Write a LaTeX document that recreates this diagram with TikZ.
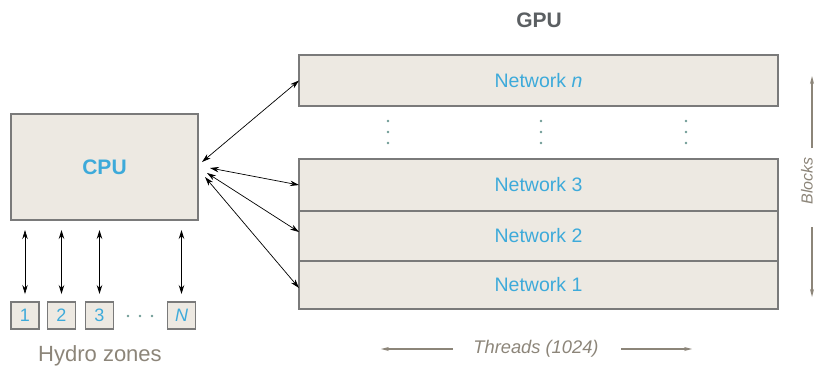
\documentclass[tikz,border=0pt]{standalone}
\usepackage{fontspec}
\setmainfont{Liberation Sans}
\usetikzlibrary{positioning,calc,arrows.meta}
\definecolor{boxfill}{HTML}{EDE9E2}
\definecolor{boxline}{HTML}{7A7A7A}
\definecolor{netblue}{HTML}{3DAADA}
\definecolor{labgray}{HTML}{8C8579}
\definecolor{gpugray}{HTML}{5B5F62}
\definecolor{dotteal}{HTML}{6E9A95}

\begin{document}
\begin{tikzpicture}[x=1pt, y=-1pt,
	box/.style={draw=boxline, line width=1.2pt, fill=boxfill, inner sep=0pt, outer sep=0pt, text=netblue},
	netbox/.style={box, minimum width=479pt, font=\fontsize{19.5}{20}\selectfont},
	zone/.style={box, minimum width=28pt, minimum height=27pt, font=\fontsize{18}{18}\selectfont},
	barrow/.style={<->, >={Stealth[length=9pt, width=5.5pt]}, line width=0.7pt},
	garrow/.style={->, >={Stealth[length=8pt, width=4pt]}, draw=labgray, line width=1.4pt}]
	\useasboundingbox (0, 0) rectangle (817, 368);
	\node[box, minimum width=187pt, minimum height=106pt, font=\bfseries\fontsize{21}{21}\selectfont] (cpu) at (104.5, 167) {CPU};
	\node[zone] (z1) at (25, 315.5) {1};
	\node[zone] (z2) at (61.5, 315.5) {2};
	\node[zone] (z3) at (99.5, 315.5) {3};
	\node[zone] (zn) at (181.5, 315.5) {\itshape N};
	\foreach \x in {128, 140, 152}
		\fill[dotteal] (\x, 316) circle (1.3);
	\node[text=labgray, font=\fontsize{22}{22}\selectfont] (hydro) at (100, 356) {Hydro zones};
	\foreach \z in {z1, z2, z3, zn}
		\draw[barrow, shorten <=8pt, shorten >=10pt] (\z.north) -- (\z.north |- cpu.south);
	\node[text=gpugray, font=\bfseries\fontsize{21}{21}\selectfont] (gpu) at (539, 20) {GPU};
	\node[netbox, minimum height=51pt] (netn) at (538.5, 80.5) {Network \textit{n}};
	\foreach \x in {388, 541, 686}
		\foreach \y in {121, 132, 143}
			\fill[dotteal] (\x, \y) circle (1.3);
	\node[netbox, minimum height=52pt] (net3) at (538.5, 185) {Network 3};
	\node[netbox, minimum height=50pt, below=0pt of net3] (net2) {Network 2};
	\node[netbox, minimum height=48pt, below=0pt of net2] (net1) {Network 1};
	\draw[barrow] ($(cpu.east)+(4, -5)$) -- (netn.west);
	\draw[barrow] ($(cpu.east)+(12, 1)$) -- (net3.west);
	\draw[barrow] ($(cpu.east)+(9, 6)$) -- ([yshift=4pt]net2.west);
	\draw[barrow] ($(cpu.east)+(7, 10)$) -- ([yshift=-3pt]net1.west);
	\node[text=labgray, font=\itshape\fontsize{18.3}{18}\selectfont] (threads) at (536, 349) {Threads (1024)};
	\draw[garrow] ([xshift=-17pt]threads.west) -- ++(-72, 0);
	\draw[garrow] ([xshift=19pt]threads.east) -- ++(71, 0);
	\node[text=labgray, rotate=90, font=\itshape\fontsize{16}{16}\selectfont] (blocks) at (807, 181) {Blocks};
	\draw[garrow] (812, 148) -- (812, 76);
	\draw[garrow] (812, 227) -- (812, 297);
\end{tikzpicture}
\end{document}
